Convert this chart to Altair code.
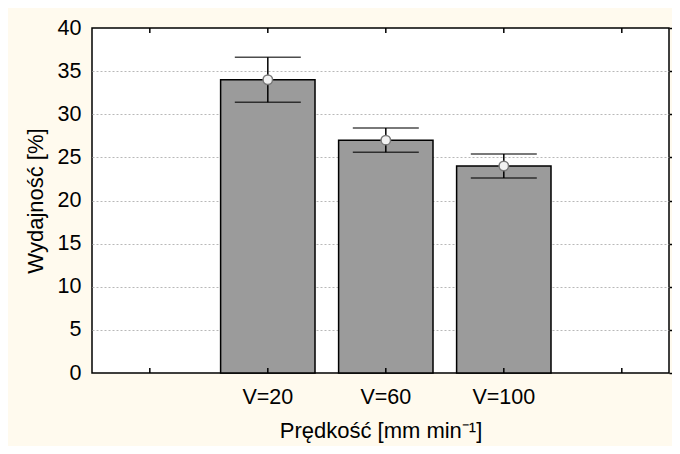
import altair as alt
import pandas as pd

# ---- data ----
slots = ["  ", "V=20", "V=60", "V=100", "   "]          # x slots (two empty ones)
speeds = ["V=20", "V=60", "V=100"]
means = [34.0, 27.0, 24.0]
lower = [31.4, 25.6, 22.6]
upper = [36.6, 28.4, 25.4]
y_ticks = [0, 5, 10, 15, 20, 25, 30, 35, 40]

df = pd.DataFrame({"speed": speeds, "mean": means, "lower": lower, "upper": upper})
slot_df = pd.DataFrame({"slot": slots})

FONT = "Liberation Sans"
LFS = 21.5
TFS = 22

xscale = alt.Scale(domain=slots, paddingInner=0.2, paddingOuter=0.045, align=1)
xaxis = alt.Axis(labelAngle=0, ticks=False, domain=False, grid=False,
                 labelFontSize=LFS, labelPadding=13, labelColor="black",
                 title="Prędkość [mm min⁻¹]", titleFontSize=TFS, titleFontWeight="normal",
                 titleColor="black", titlePadding=13)
yscale = alt.Scale(domain=[0, 40], nice=False, zero=True)
yaxis = alt.Axis(values=y_ticks, ticks=False, domain=False, labelFontSize=LFS,
                 labelPadding=11, labelColor="black",
                 title="Wydajność [%]", titleFontSize=TFS, titleFontWeight="normal",
                 titleColor="black", titlePadding=10,
                 grid=True, gridColor="#b8b8b8", gridDash=[2, 2], gridWidth=1,
                 gridOpacity={"condition": {"test": "datum.value == 0 || datum.value == 40", "value": 0}, "value": 1})


def X(field):
    return alt.X(field, type="nominal", scale=xscale, axis=xaxis, sort=slots)


def Y(field):
    return alt.Y(field, type="quantitative", scale=yscale, axis=yaxis)


bars = alt.Chart(df).mark_bar(fill="#9b9b9b", stroke="black", strokeWidth=1.5).encode(
    x=X("speed"), y=Y("mean")
)
err_line = alt.Chart(df).mark_rule(color="black", strokeWidth=1.5).encode(
    x=X("speed"), y=Y("lower"), y2="upper"
)
cap_hi = alt.Chart(df).mark_tick(color="black", size=66, thickness=1.5).encode(
    x=X("speed"), y=Y("upper")
)
cap_lo = alt.Chart(df).mark_tick(color="black", size=66, thickness=1.5).encode(
    x=X("speed"), y=Y("lower")
)
points = alt.Chart(df).mark_circle(size=90, color="#f2f2f2", stroke="#7a7a7a",
                                   strokeWidth=1.5, opacity=1).encode(
    x=X("speed"), y=Y("mean")
)
bottom_ticks = alt.Chart(slot_df).mark_rule(color="black", strokeWidth=1.5, y2Offset=-5).encode(
    x=X("slot"), y=alt.Y(datum=0, type="quantitative", scale=yscale, axis=yaxis),
    y2=alt.datum(0)
)

main = alt.layer(bars, err_line, cap_hi, cap_lo, points, bottom_ticks)

right_axis = alt.Axis(orient="right", values=y_ticks, labels=False, ticks=True, tickSize=4,
                      tickColor="black", tickWidth=1.5, domain=False, grid=False, title=None)
top_ticks = alt.Chart(slot_df).mark_rule(color="black", strokeWidth=1.5, y2Offset=5).encode(
    x=X("slot"),
    y=alt.Y(datum=40, type="quantitative", scale=alt.Scale(domain=[0, 40], nice=False),
            axis=right_axis),
    y2=alt.datum(40)
)

chart = alt.layer(main, top_ticks).resolve_scale(y="independent").properties(
    width=577, height=345,
    padding={"left": 84, "top": 20, "right": 3, "bottom": 73},
    autosize=alt.AutoSizeParams(type="none"),
).configure(
    background="#fffaee", font=FONT
).configure_view(
    fill="white", stroke="black", strokeWidth=1.5
).configure_axis(
    labelFont=FONT, titleFont=FONT
)

chart.save("out.html", embed_options={"renderer": "svg", "actions": False})
